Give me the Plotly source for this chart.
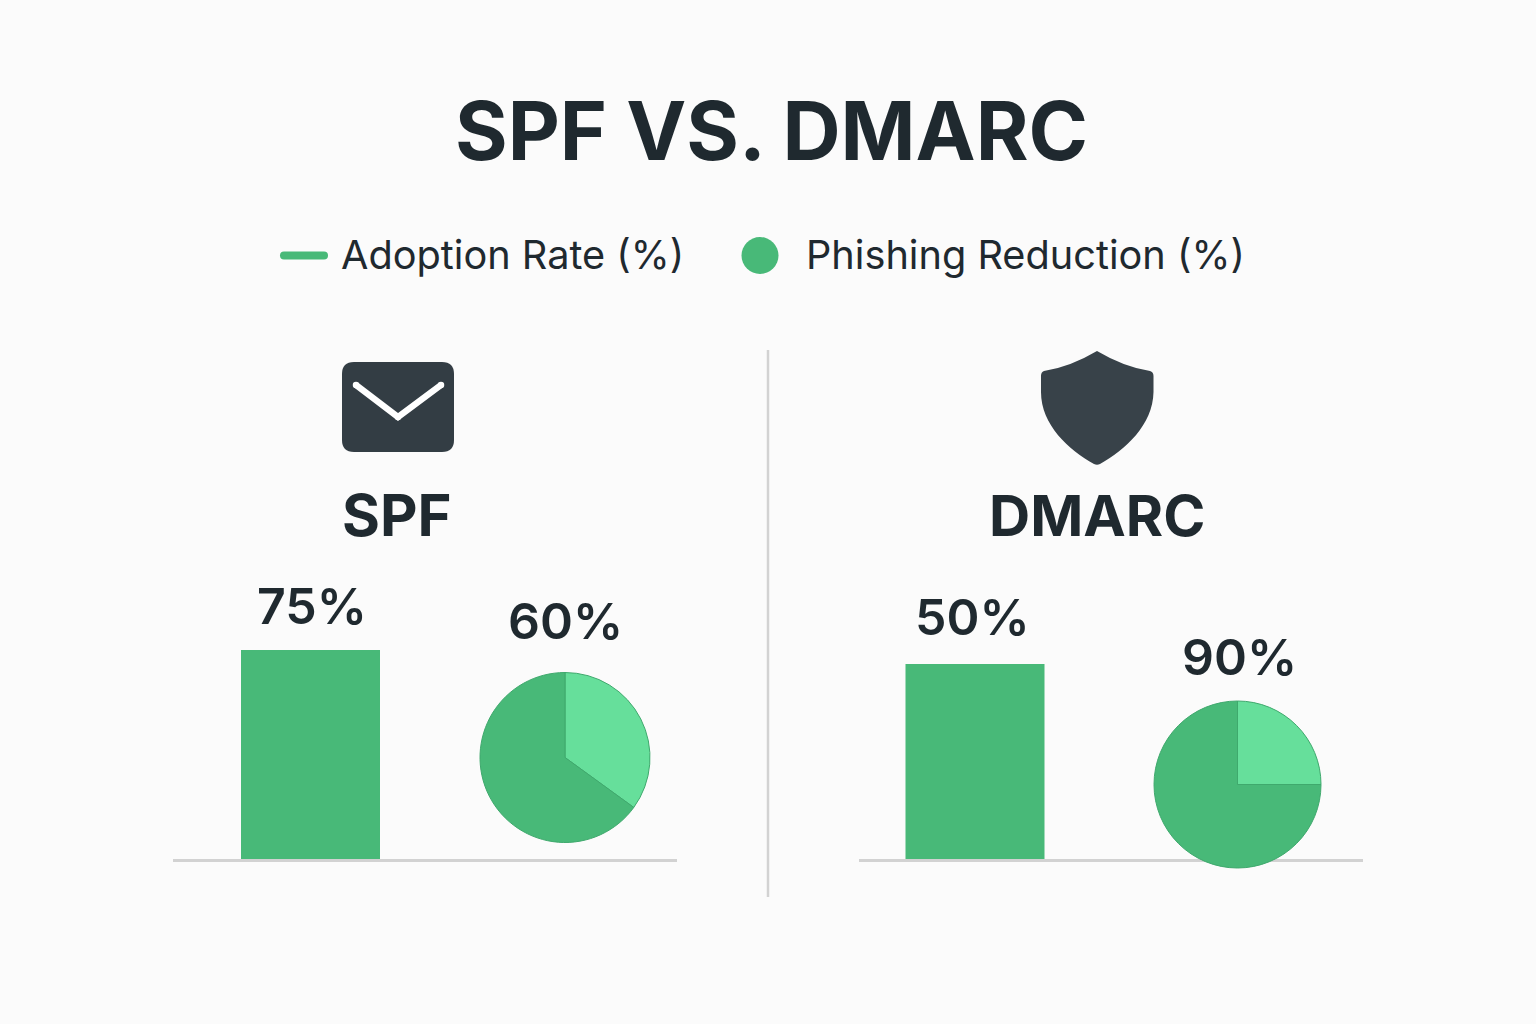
import re
import plotly.graph_objects as go

W, H = 1536, 1024
BG = "#fbfbfb"
INK = "#1f292f"
GREEN = "#48b978"
LIGHT = "#66df9b"
EDGE = "#3fa96d"
RULE = "#d2d2d2"

title = "SPF VS. DMARC"
legend_labels = ["Adoption Rate (%)", "Phishing Reduction (%)"]
protocols = ["SPF", "DMARC"]
adoption = [75, 50]
adoption_labels = ["75%", "50%"]
reduction_labels = ["60%", "90%"]
# Wedge sizes as drawn in the picture (they differ from the printed labels)
pie_slices = ["Light", "Dark"]
spf_pie = [35, 65]
dmarc_pie = [25, 75]


def px(x):
    return x / W


def py(y):
    return 1 - y / H


def path(d):
    """Convert an SVG path in page pixels to paper coordinates."""
    parts = re.findall(r"[MLQCZ]|-?[\d.]+", d)
    out, is_x = [], True
    for p in parts:
        if p in "MLQCZ":
            out.append(p)
            is_x = True
        else:
            v = float(p)
            out.append(f"{px(v) if is_x else py(v):.6f}")
            is_x = not is_x
    return " ".join(out)


def shape_path(d, fill=None, line=None, width=0):
    s = dict(type="path", xref="paper", yref="paper", path=path(d), layer="above",
             line=dict(color=line or "rgba(0,0,0,0)", width=width))
    if fill:
        s["fillcolor"] = fill
    return s


def dot(cx, cy, r, color):
    return dict(type="circle", xref="paper", yref="paper", x0=px(cx - r), x1=px(cx + r),
                y0=py(cy + r), y1=py(cy - r), fillcolor=color, line=dict(width=0), layer="above")


def text(s, x, y, size, weight=400, anchor="center"):
    return dict(text=s, x=px(x), y=py(y), xref="paper", yref="paper", xanchor=anchor, yanchor="middle",
                showarrow=False, font=dict(family="Inter", size=size, color=INK, weight=weight))


fig = go.Figure()

fig.add_trace(go.Bar(x=[protocols[0]], y=[adoption[0]], width=[1], marker=dict(color=GREEN, line=dict(width=0)),
                     xaxis="x", yaxis="y", showlegend=False))
fig.add_trace(go.Bar(x=[protocols[1]], y=[adoption[1]], width=[1], marker=dict(color=GREEN, line=dict(width=0)),
                     xaxis="x2", yaxis="y2", showlegend=False))


def pie(values, cx, cy, r):
    return go.Pie(labels=pie_slices, values=values, sort=False, direction="clockwise", rotation=0,
                  textinfo="none", hoverinfo="label+percent", showlegend=False,
                  marker=dict(colors=[LIGHT, GREEN], line=dict(color=EDGE, width=1)),
                  domain=dict(x=[px(cx - r), px(cx + r)], y=[py(cy + r), py(cy - r)]))


fig.add_trace(pie(spf_pie, 565, 757.5, 85))
fig.add_trace(pie(dmarc_pie, 1237.5, 784.5, 83.5))

axis_common = dict(showgrid=False, zeroline=False, showticklabels=False, ticks="")
x_axis = dict(axis_common, showline=True, linecolor=RULE, linewidth=3)
y_axis = dict(axis_common, showline=False)

shapes = [
    # Panel divider
    dict(type="line", xref="paper", yref="paper", x0=px(768), x1=px(768), y0=py(350), y1=py(897),
         line=dict(color=RULE, width=2.5), layer="below"),
    # Legend swatches
    shape_path("M284 251.5 L324 251.5 Q328 251.5 328 255.5 Q328 259.5 324 259.5 L284 259.5 "
               "Q280 259.5 280 255.5 Q280 251.5 284 251.5 Z", fill=GREEN),
    dot(760, 255.5, 18.5, GREEN),
    # Envelope
    shape_path("M354 362 L442 362 Q454 362 454 374 L454 440 Q454 452 442 452 L354 452 "
               "Q342 452 342 440 L342 374 Q342 362 354 362 Z", fill="#333d44"),
    shape_path("M356 385 L398 417 L441 385", line="#ffffff", width=6.5),
    dot(356, 385, 3.25, "#ffffff"),
    dot(441, 385, 3.25, "#ffffff"),
    dot(398, 417, 3.25, "#ffffff"),
    # Shield
    shape_path("M1097 351 Q1124 367 1150 371 Q1153.5 372 1153.5 376 L1153.5 392 "
               "C1153 425 1125 450 1100 464 Q1097 465.5 1094 464 "
               "C1069 450 1041 425 1041 392 L1041 376 Q1041 372 1044 371 "
               "Q1070 367 1097 351 Z", fill="#384249"),
]

annotations = [
    text(title, 771, 130, 80.5, 700),
    text(legend_labels[0], 339, 255, 39.7, 400, "left"),
    text(legend_labels[1], 804, 255, 39.7, 400, "left"),
    text(protocols[0], 397, 515, 58, 700),
    text(protocols[1], 1097, 515, 57, 700),
    text(adoption_labels[0], 312, 606, 50, 600),
    text(reduction_labels[0], 565, 621, 50, 600),
    text(adoption_labels[1], 972, 617, 50, 600),
    text(reduction_labels[1], 1239, 657, 50, 600),
]

fig.update_layout(
    width=W, height=H, margin=dict(l=0, r=0, t=0, b=0),
    paper_bgcolor=BG, plot_bgcolor="rgba(0,0,0,0)", showlegend=False, barmode="overlay",
    xaxis=dict(x_axis, domain=[px(173), px(677)], anchor="y",
               range=[(173 - 310.5) / 139, (677 - 310.5) / 139]),
    yaxis=dict(y_axis, domain=[py(859), py(650)], anchor="x", range=[0, 75]),
    xaxis2=dict(x_axis, domain=[px(859), px(1363)], anchor="y2",
                range=[(859 - 975) / 139, (1363 - 975) / 139]),
    yaxis2=dict(y_axis, domain=[py(859), py(664)], anchor="x2", range=[0, 50]),
    shapes=shapes, annotations=annotations,
)

fig.write_html("out.html", config=dict(displayModeBar=False),
               post_script="document.body.style.margin='0';document.body.style.background='" + BG + "';")
